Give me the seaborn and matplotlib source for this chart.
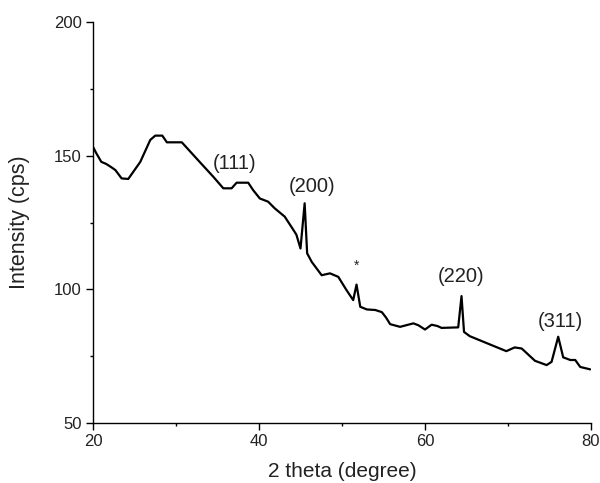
import numpy as np
import pandas as pd
import matplotlib
matplotlib.use("Agg")
import matplotlib.pyplot as plt
import seaborn as sns
from matplotlib.ticker import MultipleLocator

two_theta = [20.0, 20.4, 21.0, 21.6, 22.25, 22.7, 23.45, 24.25, 25.7, 26.9,
             27.5, 28.35, 28.9, 30.7, 32.9, 34.5, 35.7, 36.7, 37.3, 38.7,
             39.3, 40.1, 41.1, 41.9, 43.1, 43.9, 44.5, 45.0, 45.5, 45.8,
             46.35, 47.55, 48.55, 49.55, 50.55, 51.35, 51.75, 52.2, 53.0, 54.0,
             54.8, 55.3, 55.8, 57.0, 58.6, 59.2, 60.0, 60.8, 61.5, 62.0,
             64.0, 64.4, 64.7, 65.4, 69.8, 70.8, 71.65, 73.25, 74.65, 75.25,
             76.05, 76.65, 77.5, 78.1, 78.7, 79.9]
intensity = [153.3, 150.9, 147.7, 146.9, 145.6, 144.6, 141.5, 141.3, 147.7, 155.9,
             157.5, 157.5, 155.0, 155.0, 147.5, 142.1, 137.8, 137.8, 139.9, 139.9,
             137.1, 134.0, 132.8, 130.3, 127.2, 123.4, 120.5, 115.3, 132.2, 113.5,
             110.3, 105.3, 106.0, 104.7, 99.7, 96.0, 101.8, 93.5, 92.5, 92.3,
             91.5, 89.5, 87.0, 86.0, 87.3, 86.6, 85.0, 86.8, 86.3, 85.6,
             85.8, 97.5, 84.1, 82.5, 76.9, 78.3, 77.9, 73.3, 71.7, 72.9,
             82.3, 74.6, 73.6, 73.6, 71.0, 70.1]

peak_labels = ["(111)", "(200)", "*", "(220)", "(311)"]
peak_x = [37.1, 46.4, 51.8, 64.4, 76.3]
peak_y = [147.1, 138.4, 108.7, 104.7, 87.9]
peak_size = [14.5, 14.5, 10, 14.5, 14.5]

xticks = [20, 40, 60, 80]
yticks = [50, 100, 150, 200]

df = pd.DataFrame({"two_theta": two_theta, "intensity": intensity})

sns.set_style("ticks")
plt.rcParams["font.family"] = ["Liberation Sans", "DejaVu Sans"]

fig = plt.figure(figsize=(6.0, 4.83), dpi=100)
ax = fig.add_axes([0.155, 0.124, 0.83, 0.8305])

sns.lineplot(data=df, x="two_theta", y="intensity", color="black",
             linewidth=1.6, ax=ax, sort=False)

ax.set_xlim(20, 80)
ax.set_ylim(50, 200)
ax.set_xticks(xticks)
ax.set_yticks(yticks)
ax.xaxis.set_minor_locator(MultipleLocator(10))
ax.yaxis.set_minor_locator(MultipleLocator(25))
ax.tick_params(which="major", direction="out", length=5, width=1,
               labelsize=12, pad=3, color="black", labelcolor="#222222")
ax.tick_params(which="minor", direction="out", length=2.5, width=1, color="black")
for side in ["top", "right"]:
    ax.spines[side].set_visible(False)
for side in ["left", "bottom"]:
    ax.spines[side].set_linewidth(1.0)
    ax.spines[side].set_color("black")

ax.set_xlabel("2 theta (degree)", fontsize=15, color="#222222")
ax.set_ylabel("Intensity (cps)", fontsize=15.5, color="#222222")
ax.xaxis.set_label_coords(0.5, -0.097)
ax.yaxis.set_label_coords(-0.127, 0.5)

for lab, px_, py_, fs in zip(peak_labels, peak_x, peak_y, peak_size):
    ax.text(px_, py_, lab, ha="center", va="center", fontsize=fs, color="#222222")

fig.savefig("out.png", dpi=100)
